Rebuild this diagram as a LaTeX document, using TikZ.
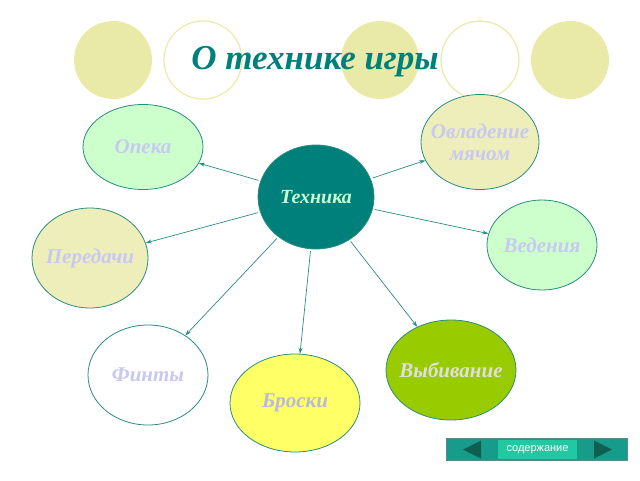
\documentclass[tikz,border=0pt]{standalone}
\usepackage{fontspec}
\setmainfont{Liberation Serif}
\newfontfamily\navfont{Liberation Sans}
\usetikzlibrary{shapes.geometric, arrows.meta, positioning}
\definecolor{paleY}{HTML}{EAEAA8}
\definecolor{tealT}{HTML}{00807A}
\definecolor{tealL}{HTML}{2A8C80}
\definecolor{lav}{HTML}{C8C8F2}
\definecolor{mint}{HTML}{CCFFCC}
\definecolor{khaki}{HTML}{EEEEBB}
\definecolor{lemon}{HTML}{FFFF66}
\definecolor{lime}{HTML}{99CC00}
\definecolor{navT}{HTML}{179C8C}
\definecolor{navM}{HTML}{22C8A2}
\definecolor{navD}{HTML}{0E5E52}
\tikzset{
  deco/.style={circle, minimum size=78pt, inner sep=0pt},
  decoF/.style={deco, fill=paleY},
  decoO/.style={deco, draw=paleY, line width=1.2pt},
  bubble/.style={ellipse, draw=tealL, line width=0.8pt, inner sep=-20pt,
                 text=lav, align=center,
                 font=\fontsize{21}{22}\selectfont\bfseries\itshape},
  bubbleG/.style={bubble, fill=mint},
  bubbleK/.style={bubble, fill=khaki},
  bubbleW/.style={bubble, fill=white},
  bubbleY/.style={bubble, fill=lemon, text=lav!80!gray},
  bubbleL/.style={bubble, fill=lime, text=gray!25},
  hub/.style={bubble, fill=tealT, text=mint, font=\fontsize{20}{22}\selectfont\bfseries\itshape},
  arrow/.style={-{Stealth[length=6pt, width=4pt]}, draw=tealL, line width=0.7pt,
                shorten <=2pt},
  navbtn/.style={rectangle, draw=navD!70, fill=navT, inner sep=0pt,
                 minimum height=22pt},
}

\begin{document}
\begin{tikzpicture}[x=1pt, y=-1pt]
  \useasboundingbox (0,0) rectangle (640,480);

  % decoration on top
  \node[decoF] (d1) at (113,60) {};
  \node[decoO] (d2) at (203,60) {};
  \node[decoF] (d3) at (380,60) {};
  \node[decoO] (d4) at (480,60) {};
  \node[decoF] (d5) at (570,60) {};

  \node[text=tealT, font=\fontsize{35}{36}\selectfont\bfseries\itshape]
    (title) at (315,62) {О технике игры};

  \node[hub,     minimum width=116pt, minimum height=104pt] (tech)   at (316,197) {Техника};
  \node[bubbleG, minimum width=120pt, minimum height=85pt]  (opeka)  at (143,147) {Опека};
  \node[bubbleK, minimum width=118pt, minimum height=95pt]  (ball)   at (480,142) {Овладение\\мячом};
  \node[bubbleK, minimum width=116pt, minimum height=100pt] (pass)   at (90,258)  {Передачи};
  \node[bubbleG, minimum width=110pt, minimum height=90pt]  (lead)   at (542,245) {Ведения};
  \node[bubbleW, minimum width=120pt, minimum height=100pt] (feint)  at (148,375) {Финты};
  \node[bubbleY, minimum width=130pt, minimum height=98pt]  (throw)  at (295,403) {Броски};
  \node[bubbleL, minimum width=130pt, minimum height=100pt] (knock)  at (451,370) {Выбивание};

  \foreach \b in {opeka, ball, pass, lead, feint, throw, knock}
    \draw[arrow] (tech) -- (\b);

  % navigation bar
  \node[navbtn, minimum width=181pt] (nav) at (536.5,449.5) {};
  \node[navbtn, fill=navM, draw=navT, minimum width=80pt, minimum height=20pt,
        text=white, font=\navfont\fontsize{11}{12}\selectfont] (toc) at (537.5,449.5) {содержание};
  \fill[navD] (463,449.5) -- (481,440.5) -- (481,458.5) -- cycle;
  \fill[navD] (612,449.5) -- (594,440.5) -- (594,458.5) -- cycle;
\end{tikzpicture}
\end{document}
